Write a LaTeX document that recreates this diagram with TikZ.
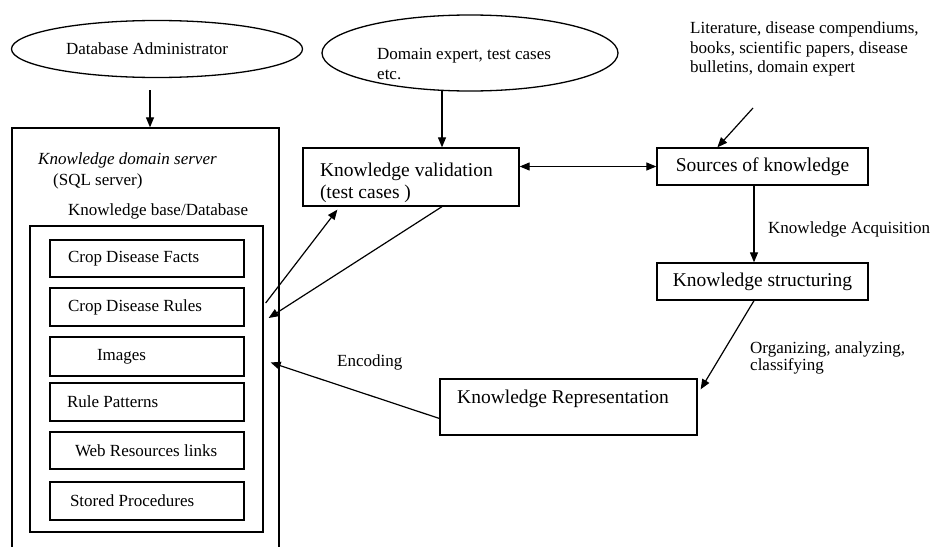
\documentclass[tikz,border=0pt]{standalone}
\usepackage{fontspec}
\setmainfont{Liberation Serif}
\usetikzlibrary{arrows.meta,shapes.geometric,calc}
\newcommand\myfa{\fontsize{17}{19.5}\selectfont}
\newcommand\myfb{\fontsize{19.5}{22}\selectfont}
\begin{document}
\begin{tikzpicture}[x=1pt,y=-1pt,
  boxa/.style={draw,line width=1.3pt,inner sep=0pt,font=\myfa},
  boxb/.style={draw,line width=1.3pt,inner sep=0pt,font=\myfb},
  oval/.style={draw,ellipse,line width=1.3pt,inner sep=0pt,font=\myfa},
  lbl/.style={inner sep=0pt,font=\myfa,align=left},
  arr/.style={-{Triangle[length=10pt,width=8pt]},line width=1.2pt},
  darr/.style={{Triangle[length=10pt,width=8pt]}-{Triangle[length=10pt,width=8pt]},line width=1.2pt}]
\clip (0,0) rectangle (933,546);
\fill[white] (0,0) rectangle (933,546);
% ellipses
\node[oval,minimum width=291pt,minimum height=57pt] (dba) at (157,49) {\hspace{-20pt}Database Administrator};
\node[oval,minimum width=296pt,minimum height=76pt] (dom) at (470,53) {};
\node[lbl,anchor=west] (domT) at (377,64) {Domain expert, test cases\\etc.};
% server container
\node[draw,line width=1.3pt,minimum width=267pt,minimum height=432pt,inner sep=0pt] (srv) at (145.5,344) {};
\node[lbl,anchor=west] (srvT) at (38,160) {\itshape Knowledge domain server};
\node[lbl,anchor=west] (sqlT) at (53,181) {(SQL server)};
\node[lbl,anchor=west] (kbT) at (68,211) {Knowledge base/Database};
\node[draw,line width=1.3pt,minimum width=233pt,minimum height=306pt,inner sep=0pt] (kb) at (146.5,379) {};
% sub boxes
\node[boxa,minimum height=37pt] (facts) at (147,258.5) {\makebox[194pt][l]{\hspace{18pt}Crop Disease Facts}};
\node[boxa,minimum height=38pt] (rules) at (147,307) {\makebox[194pt][l]{\hspace{18pt}Crop Disease Rules}};
\node[boxa,minimum height=39pt] (images) at (147,356.5) {\makebox[194pt][l]{\hspace{47pt}Images}};
\node[boxa,minimum height=38pt] (patterns) at (147,402) {\makebox[194pt][l]{\hspace{17pt}Rule Patterns}};
\node[boxa,minimum height=37pt] (web) at (147,450.5) {\makebox[194pt][l]{\hspace{25pt}Web Resources links}};
\node[boxa,minimum height=38pt] (stored) at (147,501) {\makebox[194pt][l]{\hspace{20pt}Stored Procedures}};
% right boxes
\node[boxb,minimum width=216pt,minimum height=58pt,align=left] (val) at (411,177)
  {\makebox[216pt][l]{\rule{0pt}{25pt}\hspace{17pt}Knowledge validation}\\\makebox[216pt][l]{\hspace{17pt}(test cases )}};
\node[boxb,minimum width=211pt,minimum height=37pt] (src) at (762.5,166.5) {Sources of knowledge};
\node[boxb,minimum width=211pt,minimum height=37pt] (str) at (762.5,281.5) {Knowledge structuring};
\node[boxb,minimum width=257pt,minimum height=56pt] (rep) at (568.5,407) {};
\node[inner sep=0pt,font=\myfb,anchor=west] (repT) at (457,399) {Knowledge Representation};
% labels
\node[lbl,anchor=west] (litT) at (690,49) {Literature, disease compendiums,\\books, scientific papers, disease\\bulletins, domain expert};
\node[lbl,anchor=west] (acqT) at (768,229) {Knowledge Acquisition};
\node[lbl,anchor=west,font=\fontsize{17}{17}\selectfont] (orgT) at (750,358) {Organizing, analyzing,\\classifying};
\node[lbl,anchor=west] (encT) at (337,362) {Encoding};
% coordinates for free ends
\coordinate (dbaA) at (150,90);
\coordinate (domA) at (442,90);
\coordinate (litA) at (753,108);
\coordinate (xcol) at (754,0);
% connectors
\draw[arr] (dbaA) -- (dbaA |- srv.north);
\draw[arr] (domA) -- (domA |- val.north);
\draw[arr] (litA) -- ($(src.north west)+(61,0)$);
\draw[darr] (src.west) -- (src.west -| val.east);
\draw[arr] (src.south -| xcol) -- (str.north -| xcol);
\draw[arr] (str.south -| xcol) -- ($(rep.north east)+(3,11)$);
\draw[arr] ($(rep.south west)!0.3!(rep.north west)$) -- ($(images.east)+(26,6)$);
\draw[arr] (domA |- val.south) -- ($(rules.east)+(24,11)$);
\draw[arr] ($(rules.east)+(21,-4)$) -- ($(val.south west)+(35,3)$);
\end{tikzpicture}
\end{document}
